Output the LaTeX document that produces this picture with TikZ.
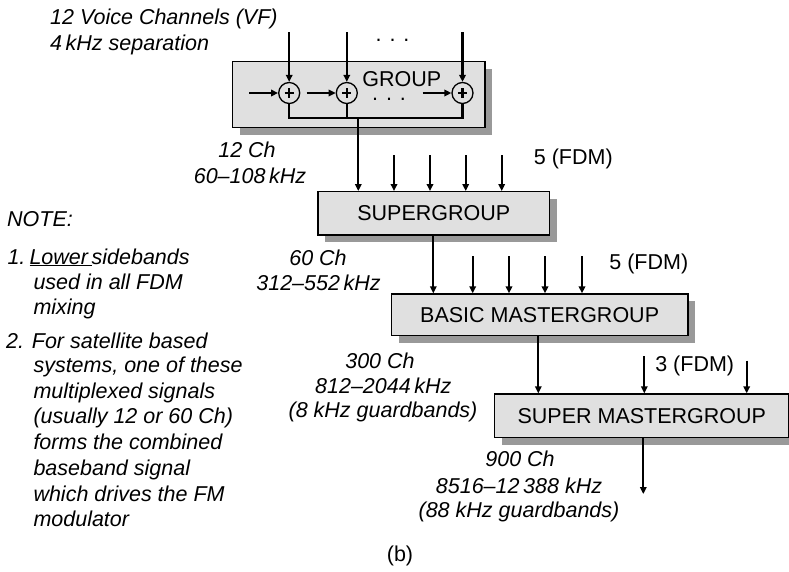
\documentclass[tikz,border=0pt]{standalone}
\usepackage{fontspec}
\setmainfont{Liberation Sans}
\usetikzlibrary{arrows.meta,shadows}
\definecolor{boxfill}{RGB}{224,224,224}
\definecolor{shadowgray}{RGB}{153,153,153}
\begin{document}
\begin{tikzpicture}[x=1pt,y=-1pt,
  every node/.style={font=\fontsize{21.5}{25.7}\selectfont},
  txt/.style={inner sep=0pt, anchor=base},
  lbl/.style={inner sep=0pt, anchor=base, font=\fontsize{21.5}{25.7}\selectfont\itshape},
  lblw/.style={lbl, anchor=base west},
  blk/.style={draw=black, line width=1.3pt, fill=boxfill, anchor=north west, inner sep=0pt,
    drop shadow={shadow xshift=7.5pt, shadow yshift=-7.5pt, fill=shadowgray, opacity=1}},
  arr/.style={line width=2.3pt, -{Triangle[length=7pt,width=6.5pt]}},
  wire/.style={line width=2.3pt},
  adder/.style={circle, draw=black, line width=1.3pt, fill=boxfill, minimum size=21pt, inner sep=0pt,
    path picture={
      \draw[line width=2.2pt] ([xshift=-4.6pt]path picture bounding box.center) -- ([xshift=4.6pt]path picture bounding box.center);
      \draw[line width=2.2pt] ([yshift=-4.6pt]path picture bounding box.center) -- ([yshift=4.6pt]path picture bounding box.center);
    }}
]
\useasboundingbox (0,0) rectangle (789,571);

% ---------- GROUP ----------
\node[blk, minimum width=252.6pt, minimum height=65.8pt] (grp) at (231.7,60.7) {};
\node[txt] (grpl) at (401.7,86) {GROUP};
\node[adder] (a1) at (289.2,93) {};
\node[adder] (a2) at (346.8,93) {};
\node[adder] (a3) at (462.5,93) {};
\coordinate (v1) at (289.2,32);
\coordinate (v2) at (346.8,32);
\coordinate (v3) at (462.5,32);
\draw[arr] (v1) -- (a1.north);
\draw[arr] (v2) -- (a2.north);
\draw[arr] (v3) -- (a3.north);
\coordinate (h1) at (249,93);
\coordinate (h2) at (306.7,93);
\coordinate (h3) at (422.7,93);
\draw[arr] (h1) -- (a1.west);
\draw[arr] (h2) -- (a2.west);
\draw[arr] (h3) -- (a3.west);
\node[txt] (dt1) at (392.5,41) {. . .};
\node[txt] (dt2) at (389,100) {. . .};
\coordinate (bus) at (358.3,118.3);
\draw[wire] (a1.south) |- (bus) -- (a3.south |- bus) -- (a3.south);
\draw[wire] (a2.south) -- (a2.south |- bus);

% ---------- SUPERGROUP ----------
\node[blk, minimum width=231.7pt, minimum height=43.3pt] (sg) at (317.3,191) {SUPERGROUP};
\draw[arr] (bus) -- (bus |- sg.north);
\foreach \x [count=\i] in {394,430,465.7,501.7}{
  \coordinate (s\i) at (\x,155);
  \draw[arr] (s\i) -- (s\i |- sg.north);
}
\node[txt] (fdm1) at (573.3,164.3) {5 (FDM)};

% ---------- BASIC MASTERGROUP ----------
\node[blk, minimum width=296.6pt, minimum height=41.7pt] (bmg) at (390.7,293.3) {BASIC MASTERGROUP};
\coordinate (x2) at (433.3,0);
\draw[arr] (sg.south -| x2) -- (bmg.north -| x2);
\foreach \x [count=\i] in {472.7,509,545,582}{
  \coordinate (b\i) at (\x,256);
  \draw[arr] (b\i) -- (b\i |- bmg.north);
}
\node[txt] (fdm2) at (648.8,269.3) {5 (FDM)};

% ---------- SUPER MASTERGROUP ----------
\node[blk, minimum width=294.3pt, minimum height=43.4pt] (smg) at (494,393.3) {SUPER MASTERGROUP};
\coordinate (x3) at (538.3,0);
\draw[arr] (bmg.south -| x3) -- (smg.north -| x3);
\coordinate (m1) at (644.3,356);
\coordinate (m2) at (746.7,360.7);
\draw[arr] (m1) -- (m1 |- smg.north);
\draw[arr] (m2) -- (m2 |- smg.north);
\node[txt] (fdm3) at (694.7,371.7) {3 (FDM)};
\coordinate (x4) at (643.3,494);
\draw[arr] (smg.south -| x4) -- (x4);

% ---------- labels ----------
\node[lblw] (vf1) at (50,24) {12 Voice Channels (VF)};
\node[lblw] (vf2) at (50,50) {4\,kHz separation};
\node[lbl] (g1) at (247,157.7) {12 Ch};
\node[lbl] (g2) at (250,183.3) {60--108\,kHz};
\node[lbl] (sg1) at (318,265) {60 Ch};
\node[lbl] (sg2) at (318.5,290) {312--552\,kHz};
\node[lbl] (bm1) at (380,368.3) {300 Ch};
\node[lbl] (bm2) at (383.3,393.3) {812--2044\,kHz};
\node[lbl] (bm3) at (383,417) {(8 kHz guardbands)};
\node[lbl] (sm1) at (520,466.7) {900 Ch};
\node[lbl] (sm2) at (519,493.3) {8516--12\,388 kHz};
\node[lbl] (sm3) at (519,517.3) {(88 kHz guardbands)};

% ---------- notes ----------
\node[lblw] (note) at (7,226.7) {NOTE:};
\node[lblw] (n1) at (7.3,264) {1.};
\node[lblw] (n1a) at (29.3,264) {\underline{Lower\,}sidebands};
\node[lblw] (n1b) at (33.3,289.3) {used in all FDM};
\node[lblw] (n1c) at (33.3,314.5) {mixing};
\node[lblw] (n2) at (6,348.3) {2.};
\node[lblw] (n2a) at (31.7,348.3) {For satellite based};
\node[lblw] (n2b) at (33.3,372.5) {systems, one of these};
\node[lblw] (n2c) at (33.3,398.2) {multiplexed signals};
\node[lblw] (n2d) at (33.3,423.9) {(usually 12 or 60 Ch)};
\node[lblw] (n2e) at (33.3,449.6) {forms the combined};
\node[lblw] (n2f) at (33.3,475.3) {baseband signal};
\node[lblw] (n2g) at (33.3,501) {which drives the FM};
\node[lblw] (n2h) at (33.3,526.7) {modulator};

\node[txt] (cap) at (400,561) {(b)};
\end{tikzpicture}
\end{document}
